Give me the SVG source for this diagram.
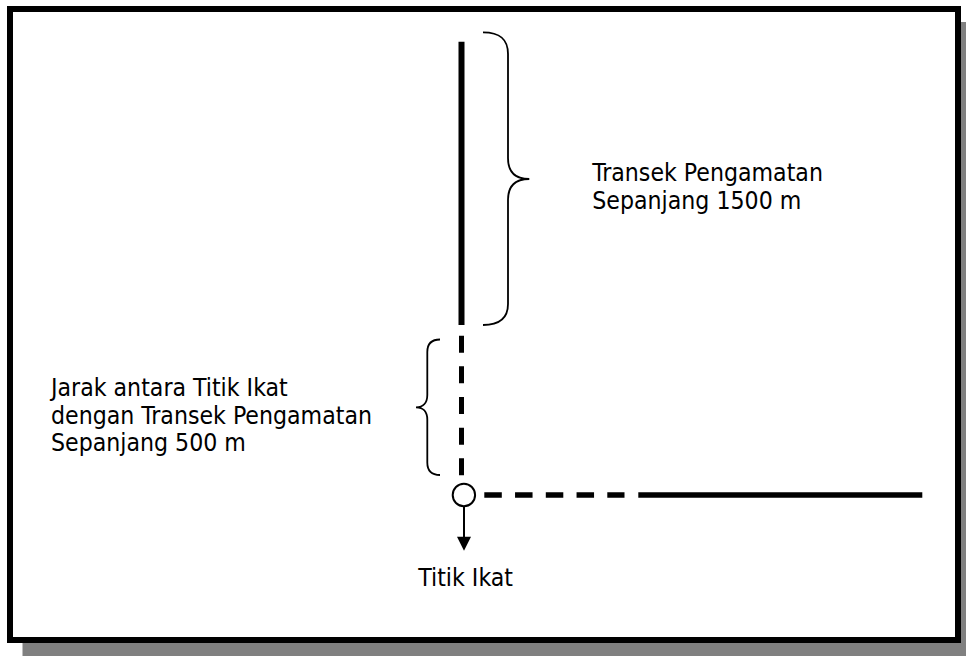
<svg xmlns="http://www.w3.org/2000/svg" width="966" height="656" viewBox="0 0 966 656">
  <style>
    .lbl { font-family: "DejaVu Sans Condensed", "DejaVu Sans", "Liberation Sans", sans-serif; font-stretch: condensed; font-size: 24.6px; fill: #000; }
    .brace { fill: none; stroke: #000; stroke-width: 1.8; }
    .thick { stroke: #000; fill: none; }
  </style>
  <rect x="0" y="0" width="966" height="656" fill="#fff"/>
  <g id="frame">
    <rect x="22.5" y="22" width="960" height="650" fill="#808080"/>
    <rect x="10" y="9" width="948" height="631" fill="#fff" stroke="#000" stroke-width="6"/>
  </g>
  <g id="connectors">
    <line class="thick" x1="461.5" y1="41.7" x2="461.5" y2="325" stroke-width="6"/>
    <line class="thick" x1="461.5" y1="335.7" x2="461.5" y2="475.2" stroke-width="5" stroke-dasharray="17 13.65"/>
    <line class="thick" x1="484.3" y1="495" x2="624.5" y2="495" stroke-width="5.5" stroke-dasharray="17.5 13.25"/>
    <line class="thick" x1="638.3" y1="495" x2="922.3" y2="495" stroke-width="5.5"/>
    <line x1="464" y1="507" x2="464" y2="537" stroke="#000" stroke-width="2"/>
    <path d="M457,536.7 L471,536.7 L464,550.7 Z" fill="#000"/>
  </g>
  <g id="titik-ikat">
    <circle cx="463.9" cy="495" r="11.2" fill="#fff" stroke="#000" stroke-width="2"/>
    <text class="lbl" x="418.3" y="586">Titik Ikat</text>
  </g>
  <g id="brace-transek">
    <path class="brace" d="M483,32.3 C500,32.3 508,39 508,54 L508,158 C508,172 515,179 529.3,179 C515,179 508,186 508,200 L508,304 C508,318 500,325 483,325"/>
    <text class="lbl" x="592.3" y="181">Transek Pengamatan</text>
    <text class="lbl" x="592.3" y="209">Sepanjang 1500 m</text>
  </g>
  <g id="brace-jarak">
    <path class="brace" d="M440,339.5 C431,339.5 427.3,344 427.3,352 L427.3,395 C427.3,403 423,407.3 416,407.3 C423,407.3 427.3,411.6 427.3,419.6 L427.3,462.5 C427.3,470.5 431,475 440,475"/>
    <text class="lbl" x="51" y="396">Jarak antara Titik Ikat</text>
    <text class="lbl" x="51" y="423.5">dengan Transek Pengamatan</text>
    <text class="lbl" x="51" y="451">Sepanjang 500 m</text>
  </g>
</svg>
